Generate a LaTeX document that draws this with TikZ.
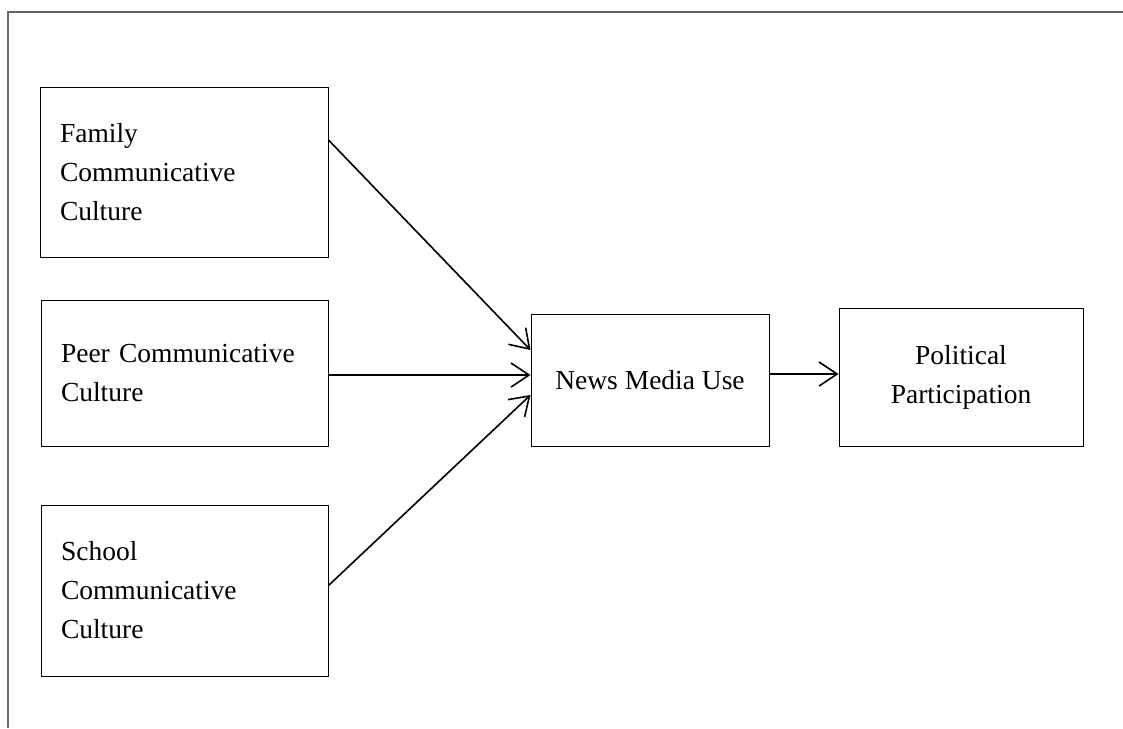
\documentclass[tikz,border=0pt]{standalone}
\usepackage{fontspec}
\setmainfont{Liberation Serif}
\usetikzlibrary{arrows.meta,calc}
\tikzset{
  box/.style={draw=black, line width=1pt, rectangle, inner sep=0pt, font=\fontsize{27.5}{39}\selectfont},
  arr/.style={line width=1.6pt, -{Straight Barb[length=18pt,width=24pt,line width=1.6pt]}},
  frame/.style={draw=black!60, line width=1.6pt}
}
\begin{document}
\begin{tikzpicture}[x=1pt,y=-1pt]
\useasboundingbox (0,0) rectangle (1123,728);
\draw[frame] (8,728) -- (8,12) -- (1123,12);
\node[box, minimum width=288pt, minimum height=170pt, text width=248pt, align=left] (fam) at (184,172) {Family\\Communicative\\Culture};
\node[box, minimum width=287pt, minimum height=146pt, text width=247pt, align=left] (peer) at (184.5,373) {\raisebox{8pt}{\parbox[t]{247pt}{Peer Communicative\\Culture}}};
\node[box, minimum width=287pt, minimum height=171pt, text width=247pt, align=left] (school) at (184.5,590.5) {School\\Communicative\\Culture};
\node[box, minimum width=238pt, minimum height=132pt, align=center] (news) at (650,380) {News Media Use};
\node[box, minimum width=244pt, minimum height=138pt, align=center] (pol) at (961,377) {Political\\Participation};
\draw[arr] ([yshift=32pt]fam.east) -- ([yshift=30pt]news.west);
\draw[arr] ([yshift=-2pt]peer.east) -- ([yshift=-2pt]peer.east -| news.west);
\draw[arr] ([yshift=5pt]school.east) -- ([yshift=-15pt]news.west);
\draw[arr] ([yshift=6pt]news.east) -- ([yshift=6pt]news.east -| pol.west);
\end{tikzpicture}
\end{document}
